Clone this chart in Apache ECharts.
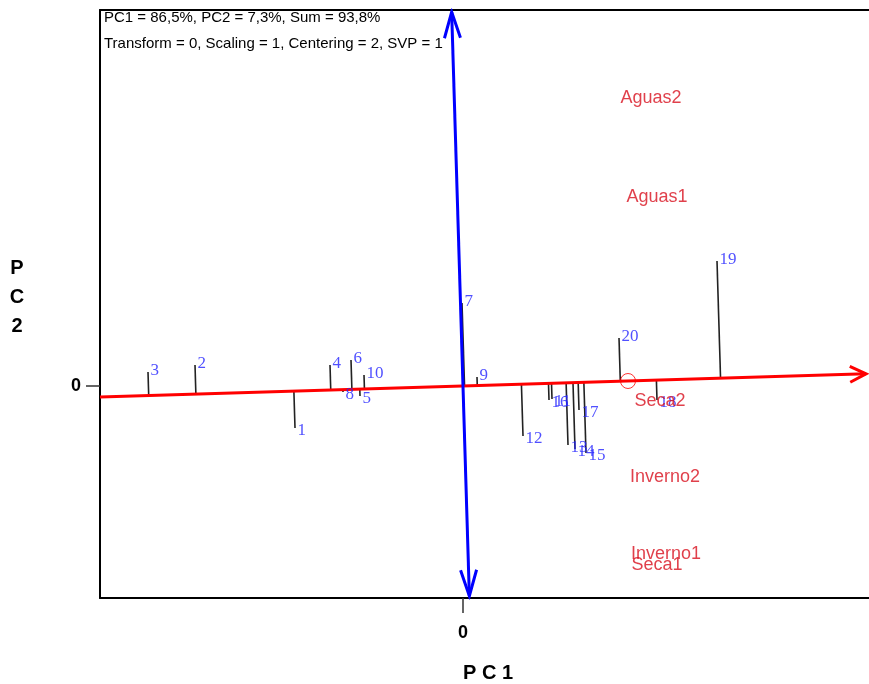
<!DOCTYPE html>
<html><head><meta charset="utf-8">
<script src="https://cdn.jsdelivr.net/npm/echarts@6/dist/echarts.min.js"></script>
<style>html,body{margin:0;padding:0;background:#fff}#c{width:869px;height:684px}</style>
</head><body><div id="c"></div>
<script>
// ---- data (biplot scores, arbitrary units) ----
const genotypes = ['1','2','3','4','5','6','7','8','9','10','11','12','13','14','15','16','17','18','19','20'];
const genoPC1 = [-16.8,-26.8,-31.5,-13.3,-10.3,-11.2,-0.1,-12.0,1.4,-9.9,8.9,6.0,10.5,11.2,12.3,8.6,11.6,19.4,25.4,15.6];
const genoPC2 = [-4.2,2.1,1.4,2.1,-1.0,2.6,8.3,-0.6,0.9,1.1,-1.3,-5.0,-5.9,-6.3,-6.7,-1.4,-2.4,-1.4,12.5,4.8];
const environments = ['Aguas2','Aguas1','Seca2','Inverno2','Inverno1','Seca1'];
const envPC1 = [18.8,19.4,19.7,20.2,20.3,19.4];
const envPC2 = [28.8,18.9,-1.5,-9.1,-16.8,-17.9];
const avgEnv = [16.5,0.5];
const tickValues = [0];
const infoLines = ['PC1 = 86,5%, PC2 = 7,3%, Sum = 93,8%','Transform = 0, Scaling = 1, Centering = 2, SVP = 1'];
const xTitle = 'P C 1';
const yTitle = 'P\nC\n2';

// ---- geometry derived from data ----
const X_MIN = -36.3, X_MAX = 40.6, Y_MIN = -21.2, Y_MAX = 37.6;
const len = Math.hypot(avgEnv[0], avgEnv[1]);
const u = [avgEnv[0]/len, avgEnv[1]/len];       // AEA direction
const n = [-u[1], u[0]];                         // ATC direction
const at = (t, d) => [t*d[0], t*d[1]];
const add = (a,b,s) => [a[0]+s*b[0], a[1]+s*b[1]];

const aeaStart = at(X_MIN/u[0], u);
const aeaTip = at(40.3/u[0], u);
const aeaArrow = [add(add(aeaTip,u,-1.6),n,0.8), aeaTip, add(add(aeaTip,u,-1.6),n,-0.8)];
const atcTop = at(37.4/n[1], n);
const atcBot = at(-21.0/n[1], n);
const atcArrowTop = [add(add(atcTop,n,-2.6),u,-0.8), atcTop, add(add(atcTop,n,-2.6),u,0.8)];
const atcArrowBot = [add(add(atcBot,n,2.6),u,-0.8), atcBot, add(add(atcBot,n,2.6),u,0.8)];

const side = (i) => genoPC2[i]*u[0] - genoPC1[i]*u[1];   // >0 above AEA
const projLines = genotypes.map((g,i)=>{
  const p=[genoPC1[i],genoPC2[i]];
  const t=p[0]*u[0]+p[1]*u[1];
  return {coords:[p, at(t,u)]};
});

const lineSeries = (data, color, width, z) => ({
  type:'lines', coordinateSystem:'cartesian2d', polyline:true, silent:true, z:z,
  data:data, lineStyle:{color:color, width:width, opacity:1}
});

const frameLine = {show:true, onZero:false, lineStyle:{color:'#000', width:2}};
const tickLabel = {customValues:tickValues, color:'#000', fontWeight:'bold', fontSize:18, fontFamily:'Liberation Sans'};

const chart = echarts.init(document.getElementById('c'), null, {renderer:'canvas'});
chart.setOption({
  animation:false,
  grid:{left:100, top:10, right:0, bottom:86, show:false},
  xAxis:[
    {type:'value', position:'bottom', min:X_MIN, max:X_MAX, splitLine:{show:false},
      axisLine:frameLine,
      axisTick:{show:true, customValues:tickValues, length:15, lineStyle:{color:'#333', width:1.5}},
      axisLabel:Object.assign({margin:26}, tickLabel)},
    {type:'value', position:'top', min:X_MIN, max:X_MAX, splitLine:{show:false},
      axisLine:frameLine, axisTick:{show:false}, axisLabel:{show:false}}
  ],
  yAxis:{type:'value', position:'left', min:Y_MIN, max:Y_MAX, splitLine:{show:false},
    axisLine:frameLine,
    axisTick:{show:true, customValues:tickValues, length:14, lineStyle:{color:'#333', width:1.5}},
    axisLabel:Object.assign({margin:19}, tickLabel)},
  graphic:[
    {type:'text', x:104, y:18, style:{text:infoLines[0], font:'15px "Liberation Sans"', fill:'#000', align:'left', verticalAlign:'middle'}},
    {type:'text', x:104, y:44, style:{text:infoLines[1], font:'15px "Liberation Sans"', fill:'#000', align:'left', verticalAlign:'middle'}},
    {type:'text', x:488, y:673, style:{text:xTitle, font:'bold 20px "Liberation Sans"', fill:'#000', align:'center', verticalAlign:'middle'}},
    {type:'text', x:17, y:297, style:{text:yTitle, font:'bold 20px "Liberation Sans"', lineHeight:29, fill:'#000', align:'center', verticalAlign:'middle'}}
  ],
  series:[
    lineSeries(projLines, '#222', 1.6, 2),
    lineSeries([{coords:[aeaStart, aeaTip]}, {coords:aeaArrow}], '#ff0000', 3, 3),
    lineSeries([{coords:[atcTop, atcBot]}, {coords:atcArrowTop}, {coords:atcArrowBot}], '#0000ff', 3, 4),
    {type:'scatter', silent:true, z:5, symbol:'circle', symbolSize:15,
      itemStyle:{color:'transparent', borderColor:'#ff0000', borderWidth:1},
      data:[avgEnv]},
    {type:'scatter', silent:true, z:6, symbolSize:1, itemStyle:{color:'transparent'},
      data:genotypes.map((g,i)=>({name:g, value:[genoPC1[i],genoPC2[i]],
        label:{offset:[0, side(i) < 0 ? 3 : -1]}})),
      label:{show:true, position:'right', distance:2, formatter:'{b}', color:'#2424ff', fontSize:17, fontFamily:'Liberation Serif'}},
    {type:'scatter', silent:true, z:6, symbolSize:1, itemStyle:{color:'transparent'},
      data:environments.map((e,i)=>({name:e, value:[envPC1[i],envPC2[i]]})),
      label:{show:true, position:'inside', formatter:'{b}', color:'#d8101e', fontSize:18, fontFamily:'Liberation Sans'}}
  ]
});
</script></body></html>
